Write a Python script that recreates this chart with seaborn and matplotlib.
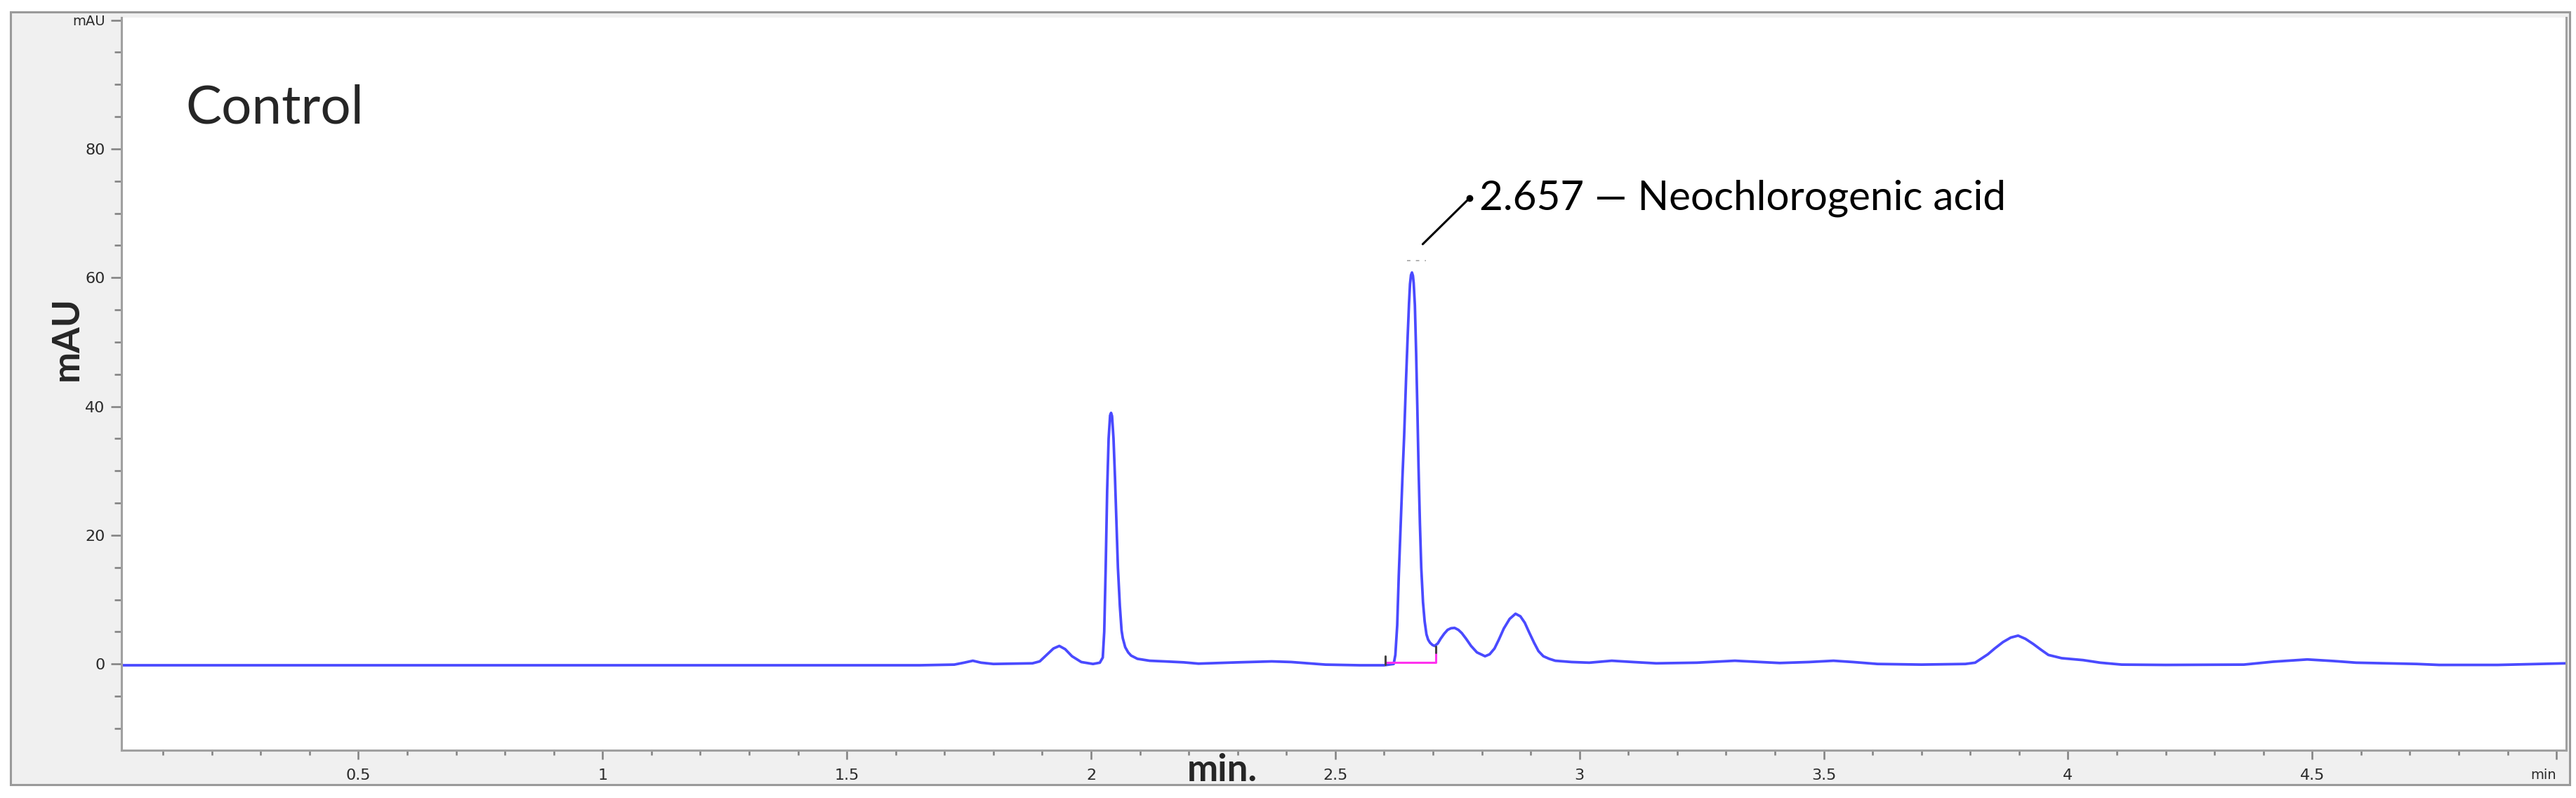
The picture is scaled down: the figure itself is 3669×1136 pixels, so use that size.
import pandas as pd
import matplotlib
matplotlib.use('Agg')
import matplotlib.pyplot as plt
import seaborn as sns
from matplotlib.patches import Rectangle
from matplotlib.ticker import MultipleLocator

# Chromatogram trace: retention time (min) and absorbance (mAU)
rt_min = [0.015, 0.25, 0.5, 0.75, 1.0, 1.25, 1.5, 1.65,
          1.72, 1.74, 1.758, 1.775, 1.80, 1.88, 1.895, 1.909, 1.923, 1.935,
          1.947, 1.961, 1.98, 2.004, 2.018,
          2.024, 2.027, 2.030, 2.033, 2.036, 2.039, 2.041, 2.043, 2.046, 2.049,
          2.052, 2.055, 2.059, 2.0625, 2.065, 2.070, 2.076, 2.082, 2.095, 2.12,
          2.15,
          2.19, 2.22, 2.30, 2.37, 2.41, 2.48, 2.55, 2.60, 2.6196,
          2.623, 2.6268, 2.630, 2.634, 2.6378, 2.641, 2.645, 2.6484, 2.651,
          2.653, 2.655, 2.657, 2.659, 2.6605, 2.663, 2.6655, 2.668, 2.6705,
          2.6733, 2.676, 2.6796, 2.683, 2.6867, 2.690, 2.694, 2.699, 2.7035,
          2.710, 2.7155, 2.723, 2.730, 2.737, 2.7443, 2.752, 2.759, 2.768, 2.778,
          2.790, 2.8066, 2.816, 2.826, 2.835, 2.845, 2.857, 2.869, 2.879, 2.888,
          2.897, 2.907, 2.916, 2.926, 2.938, 2.9505,
          2.984, 3.02, 3.066, 3.11, 3.157, 3.24, 3.318, 3.37, 3.41, 3.47, 3.52,
          3.56, 3.61, 3.70, 3.79, 3.81, 3.836, 3.85, 3.867, 3.883, 3.898, 3.913,
          3.929, 3.945, 3.96, 3.987, 4.031, 4.066, 4.11, 4.20, 4.36, 4.42, 4.49,
          4.545, 4.59, 4.714, 4.76, 4.88, 5.02]
mau = [-0.2, -0.2, -0.2, -0.2, -0.2, -0.2, -0.2, -0.2,
       -0.1, 0.2, 0.5, 0.2, 0.0, 0.1, 0.4, 1.4, 2.4, 2.8,
       2.3, 1.2, 0.3, 0.0, 0.2,
       1.0, 5.0, 15.0, 27.0, 35.0, 38.6, 39.0, 38.5, 35.0, 29.0,
       22.0, 15.0, 9.0, 5.2, 4.0, 2.6, 1.8, 1.3, 0.8, 0.5,
       0.4,
       0.25, 0.05, 0.25, 0.4, 0.3, -0.1, -0.2, -0.2, 0.0,
       1.4, 6.0, 13.7, 21.8, 29.5, 35.4, 44.4, 51.2, 56.0,
       59.0, 60.4, 60.8, 60.3, 59.2, 55.7, 48.5, 39.9, 30.5,
       21.8, 15.0, 9.6, 6.6, 4.6, 3.8, 3.3, 2.95, 2.8,
       3.2, 3.9, 4.7, 5.3, 5.55, 5.6, 5.3, 4.8, 3.9, 2.8,
       1.8, 1.2, 1.5, 2.4, 3.8, 5.5, 7.0, 7.8, 7.4, 6.4,
       4.9, 3.3, 2.0, 1.2, 0.8, 0.5,
       0.3, 0.2, 0.5, 0.3, 0.1, 0.2, 0.5, 0.3, 0.15, 0.3, 0.5,
       0.3, 0.0, -0.1, 0.0, 0.2, 1.5, 2.4, 3.4, 4.1, 4.4, 3.9,
       3.1, 2.2, 1.4, 0.9, 0.6, 0.2, -0.1, -0.15, -0.1, 0.35, 0.7,
       0.45, 0.2, 0.0, -0.15, -0.15, 0.1]

# Integration events for the labelled peak
integ_start = 2.603
integ_end = 2.706
integ_level = 0.2
valley_mau = 2.8

# Labelled peak
label_rt = 2.657
label_text = '2.657 \u2014 Neochlorogenic acid'

x_ticks = [0.5, 1, 1.5, 2, 2.5, 3, 3.5, 4, 4.5, 5]
x_labels = ['0.5', '1', '1.5', '2', '2.5', '3', '3.5', '4', '4.5', 'min']
y_ticks = [0, 20, 40, 60, 80, 100]
y_labels = ['0', '20', '40', '60', '80', 'mAU']

df = pd.DataFrame({'rt': rt_min, 'mau': mau})

sns.set_style('white')
plt.rcParams['font.family'] = ['DejaVu Sans']

W, H = 3669, 1136
fig = plt.figure(figsize=(W / 100, H / 100), dpi=100, facecolor='white')

# grey instrument panel behind the plot
fig.patches.append(Rectangle((15 / W, 1 - 1117 / H), (3660 - 15) / W, (1117 - 17) / H,
                             transform=fig.transFigure, facecolor='#f0f0f0',
                             edgecolor='#9a9a9a', lw=2.2, zorder=-1))

ax = fig.add_axes([173 / W, 1 - 1068 / H, (3655 - 173) / W, (1068 - 25) / H])
ax.set_facecolor('white')

sns.lineplot(data=df, x='rt', y='mau', ax=ax, color='#4a4aff', lw=2.7,
             sort=False, estimator=None, solid_joinstyle='round')

# integration baseline and event ticks
ax.plot([integ_start, integ_end, integ_end], [integ_level, integ_level, valley_mau - 0.9],
        color='#ff33ee', lw=2.2, zorder=3)
ax.plot([integ_start, integ_start], [-0.1, 1.2], color='#444444', lw=2.2, zorder=4)
ax.plot([integ_end, integ_end], [valley_mau - 1.0, valley_mau], color='#444444', lw=2.2, zorder=4)

# peak label
ax.plot([label_rt - 0.010, label_rt + 0.029], [62.7, 62.7], color='#b0b0b0',
        lw=1.4, ls=(0, (2.5, 4)))
ax.plot([label_rt + 0.022, label_rt + 0.1185], [65.2, 72.4], color='black', lw=2.2)
ax.plot([label_rt + 0.1185], [72.4], 'o', color='black', ms=6)
ax.text(label_rt + 0.138, 70.6, label_text, fontsize=42, family='Lato',
        va='baseline', ha='left', color='black')

ax.set_xlim(0.015, 5.02)
ax.set_ylim(-13.4, 100.4)
ax.set_xticks(x_ticks)
ax.set_xticklabels(x_labels)
ax.set_yticks(y_ticks)
ax.set_yticklabels(y_labels)
ax.xaxis.set_minor_locator(MultipleLocator(0.1))
ax.yaxis.set_minor_locator(MultipleLocator(5))
ax.tick_params(axis='x', which='major', direction='out', length=9, width=1.8,
               color='#808080', labelsize=16, labelcolor='#2a2a2a', pad=10, bottom=True)
ax.tick_params(axis='x', which='minor', direction='out', length=5, width=1.8,
               color='#808080', bottom=True)
ax.tick_params(axis='y', which='major', direction='out', length=11, width=1.8,
               color='#808080', labelsize=16, labelcolor='#2a2a2a', pad=6, left=True)
ax.tick_params(axis='y', which='minor', direction='out', length=7, width=1.8,
               color='#808080', left=True)
ax.get_xticklabels()[-1].set_fontsize(14)
ax.get_xticklabels()[-1].set_ha('right')
ax.get_yticklabels()[-1].set_fontsize(14)
ax.set_xlabel('')
ax.set_ylabel('')

for side in ['left', 'bottom', 'right']:
    ax.spines[side].set_color('#a0a0a0')
    ax.spines[side].set_linewidth(2.2)
ax.spines['top'].set_visible(False)

fig.text(264 / W, 1 - 175 / H, 'Control', fontsize=55, family='Lato',
         va='baseline', ha='left')
fig.text(95 / W, 1 - 482 / H, 'mAU', fontsize=38, family='Lato', weight='bold',
         rotation=90, va='center', ha='center')
fig.text(1741 / W, 1 - 1112 / H, 'min.', fontsize=38, family='Lato', weight='bold',
         va='baseline', ha='center')

fig.savefig('out.png', dpi=100, facecolor='white')
